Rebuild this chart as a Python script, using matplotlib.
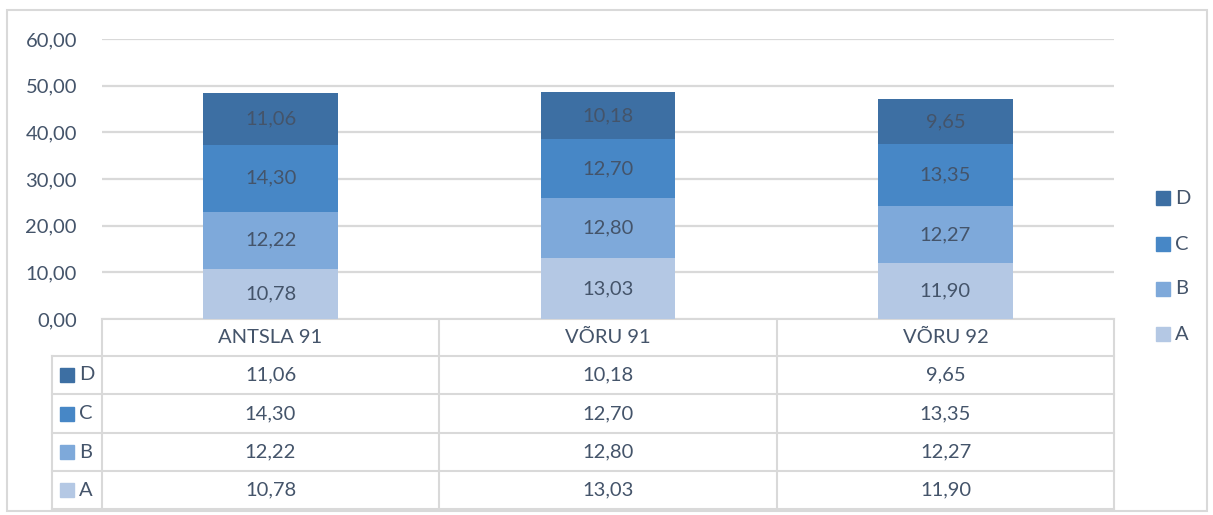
import numpy as np
import matplotlib.pyplot as plt
from matplotlib.patches import Rectangle

# --- dati ---
categorie = ["ANTSLA 91", "VÕRU 91", "VÕRU 92"]
serie = ["A", "B", "C", "D"]
valori_A = [10.78, 13.03, 11.90]
valori_B = [12.22, 12.80, 12.27]
valori_C = [14.30, 12.70, 13.35]
valori_D = [11.06, 10.18, 9.65]
tick_y = [0, 10, 20, 30, 40, 50, 60]

colori = {"A": "#B4C8E4", "B": "#7EA9DA", "C": "#4787C6", "D": "#3D6FA3"}
testo = "#44546A"
griglia = "#D9D9D9"
W, H = 1213, 515
fs = 14.5

def fmt(v):
    return f"{v:.2f}".replace(".", ",")

plt.rcParams['font.family'] = ['Lato', 'DejaVu Sans']

fig = plt.figure(figsize=(W / 100, H / 100), dpi=100)

# overlay in pixel per bordo, tabella e legenda
ov = fig.add_axes([0, 0, 1, 1])
ov.set_xlim(0, W); ov.set_ylim(H, 0); ov.axis('off')

# --- grafico a barre ---
x0, x1, y0, y1 = 102, 1114, 319, 39
ax = fig.add_axes([x0 / W, 1 - y0 / H, (x1 - x0) / W, (y0 - y1) / H])
ax.set_xlim(0, 3); ax.set_ylim(0, 60)
for s in ax.spines.values():
    s.set_visible(False)
ax.set_xticks([])
ax.set_yticks(tick_y)
ax.set_yticklabels([fmt(t) for t in tick_y], fontsize=fs, color=testo)
ax.tick_params(axis='y', length=0, pad=18)
ax.yaxis.grid(True, color=griglia, linewidth=1.6)
ax.set_axisbelow(True)

dati = {"A": valori_A, "B": valori_B, "C": valori_C, "D": valori_D}
pos = np.arange(len(categorie)) + 0.5
base = np.zeros(len(categorie))
for s in serie:
    v = np.array(dati[s])
    ax.bar(pos, v, 0.4, bottom=base, color=colori[s], zorder=2)
    for xi, b, vi in zip(pos, base, v):
        ax.text(xi, b + vi / 2, fmt(vi), ha='center', va='center',
                fontsize=fs, color=testo, zorder=3)
    base += v

# --- bordo esterno ---
ov.add_patch(Rectangle((7, 10), 1200, 501, fill=False, edgecolor=griglia, linewidth=1.5))

# --- tabella dati ---
col_x = [102, 439, 777, 1114]
righe_y = [319, 356, 394, 433, 471, 509]
lc = dict(color=griglia, linewidth=1.5)
ov.plot([col_x[0], col_x[-1]], [righe_y[0]] * 2, **lc)
for y in righe_y[1:]:
    ov.plot([52, col_x[-1]], [y, y], **lc)
for x in col_x:
    ov.plot([x, x], [righe_y[0], righe_y[-1]], **lc)
ov.plot([52, 52], [righe_y[1], righe_y[-1]], **lc)

for i, c in enumerate(categorie):
    cx = (col_x[i] + col_x[i + 1]) / 2
    ov.text(cx, (righe_y[0] + righe_y[1]) / 2, c, ha='center', va='center',
            fontsize=fs, color=testo)

for r, s in enumerate(serie[::-1]):
    cy = (righe_y[r + 1] + righe_y[r + 2]) / 2
    ov.add_patch(Rectangle((60, cy - 7), 14, 14, color=colori[s]))
    ov.text(79, cy, s, ha='left', va='center', fontsize=fs, color=testo)
    for i in range(len(categorie)):
        cx = (col_x[i] + col_x[i + 1]) / 2
        ov.text(cx, cy, fmt(dati[s][i]), ha='center', va='center',
                fontsize=fs, color=testo)

# --- legenda a destra ---
leg_y = [198, 244, 289, 334]
for s, ly in zip(serie[::-1], leg_y):
    ov.add_patch(Rectangle((1156, ly - 7), 14, 14, color=colori[s]))
    ov.text(1175, ly, s, ha='left', va='center', fontsize=fs, color=testo)

fig.savefig("out.png", dpi=100)
